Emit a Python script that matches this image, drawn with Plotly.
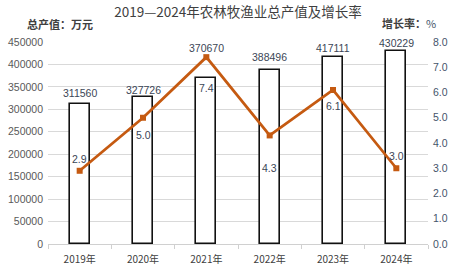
import plotly.graph_objects as go

years = ["2019年", "2020年", "2021年", "2022年", "2023年", "2024年"]
output_value = [311560, 327726, 370670, 388496, 417111, 430229]
growth_rate = [2.9, 5.0, 7.4, 4.3, 6.1, 3.0]

# label offsets (pixels) for readability, as in the reference
bar_label_shift = [11, 7, 30, 13, 9, 8]
rate_label_shift = [12, -17, -31, -33, -16, 12]

FONT = "Liberation Sans, Noto Sans CJK SC, sans-serif"
LABEL_COLOR = "#3B4656"

fig = go.Figure()
fig.add_trace(go.Bar(
    x=years, y=output_value, width=0.32,
    marker=dict(color="white", line=dict(color="#111111", width=1.6)),
    yaxis="y", showlegend=False, hoverinfo="skip",
))
fig.add_trace(go.Scatter(
    x=years, y=growth_rate, yaxis="y2", mode="lines+markers",
    line=dict(color="#C55A11", width=2.75),
    marker=dict(symbol="square", size=6, color="#C55A11"),
    showlegend=False, hoverinfo="skip",
))

annotations = []
for yr, v, s in zip(years, output_value, bar_label_shift):
    annotations.append(dict(x=yr, y=v, xref="x", yref="y", text=str(v),
                            showarrow=False, yshift=s, yanchor="middle",
                            font=dict(family=FONT, size=10.5, color=LABEL_COLOR)))
for yr, v, s in zip(years, growth_rate, rate_label_shift):
    annotations.append(dict(x=yr, y=v, xref="x", yref="y2", text=f"{v:.1f}",
                            showarrow=False, yshift=s, yanchor="middle",
                            font=dict(family=FONT, size=10.5, color=LABEL_COLOR)))
annotations.append(dict(x=25, y=24, xref="paper", yref="paper", text="<b>总产值：万元</b>",
                        showarrow=False, xanchor="left", yanchor="middle",
                        font=dict(family="Noto Sans CJK SC", size=11, color="#404040")))
annotations.append(dict(x=380, y=23, xref="paper", yref="paper",
                        text="<b>增长率：</b><span style='color:#44546A'>%</span>",
                        showarrow=False, xanchor="left", yanchor="middle",
                        font=dict(family="Noto Sans CJK SC", size=11, color="#404040")))

# convert pixel positions of the two unit labels to paper coordinates
W, H = 454, 272
ml, mr, mt, mb = 48, 26, 42, 28
pw, ph = W - ml - mr, H - mt - mb
for a in annotations[-2:]:
    a["x"] = (a["x"] - ml) / pw
    a["y"] = (H - mb - a["y"]) / ph

fig.update_layout(
    width=W, height=H,
    margin=dict(l=ml, r=mr, t=mt, b=mb),
    paper_bgcolor="white", plot_bgcolor="white",
    title=dict(text="2019—2024年农林牧渔业总产值及增长率", x=0.5, xref="paper",
               y=1 - 12 / H, yanchor="middle",
               font=dict(family="Noto Sans CJK SC", size=13.5, color="#404040")),
    xaxis=dict(type="category", showgrid=False, showline=True, linecolor="#D0D0D0",
               ticks="outside", tickson="boundaries", ticklen=4, tickcolor="#D0D0D0",
               ticklabelstandoff=6, automargin=False,
               tickfont=dict(family="Noto Sans CJK SC", size=10, color="#404040"),
               range=[-0.5, 5.5]),
    yaxis=dict(range=[0, 450000], dtick=50000, showgrid=True, gridcolor="#D9D9D9",
               gridwidth=1, zeroline=False, showline=False, tickformat="d",
               ticklabelstandoff=4, automargin=False,
               tickfont=dict(family=FONT, size=10.5, color="#595959")),
    yaxis2=dict(range=[0, 8], dtick=1, overlaying="y", side="right", showgrid=False,
                zeroline=False, showline=False, tickformat=".1f",
                ticklabelstandoff=4, automargin=False,
                tickfont=dict(family=FONT, size=10.5, color="#44546A")),
    annotations=annotations,
    bargap=0,
)

fig.write_html("out.html")
